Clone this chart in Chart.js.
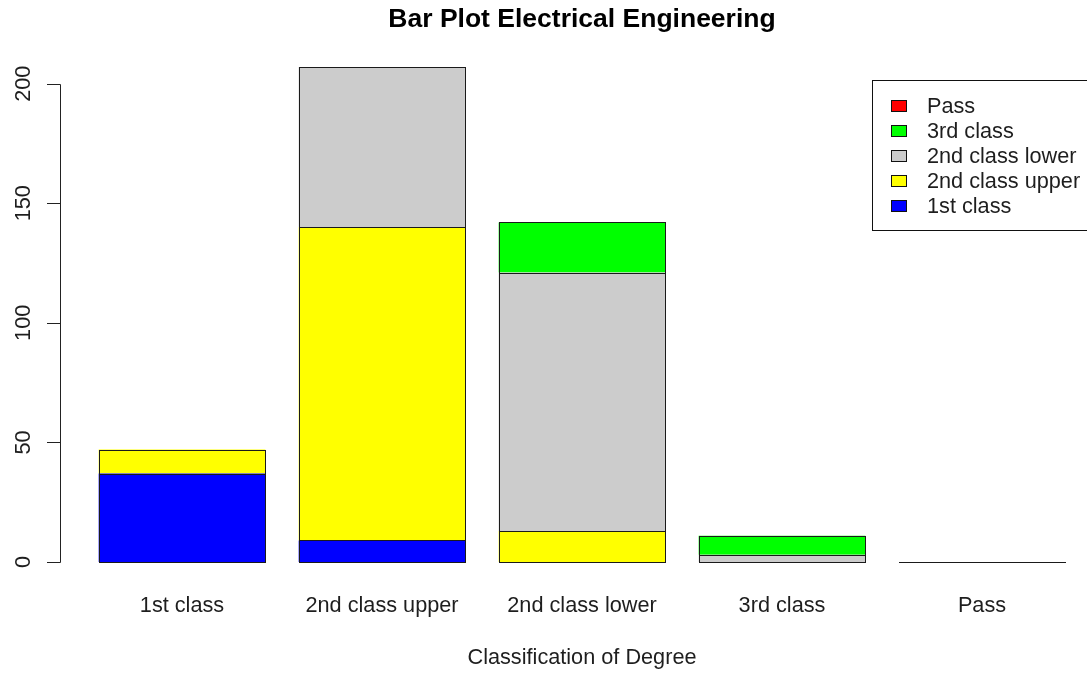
<!DOCTYPE html>
<html>
<head>
<meta charset="utf-8">
<script src="https://cdn.jsdelivr.net/npm/chart.js@4"></script>
<style>
  html, body { margin: 0; padding: 0; background: #fff; }
  #wrap { width: 1087px; height: 673px; }
</style>
</head>
<body>
<div id="wrap"><canvas id="bars"></canvas></div>
<script>
var categories = ['1st class', '2nd class upper', '2nd class lower', '3rd class', 'Pass'];
var yTicks = [0, 50, 100, 150, 200];

// counts per degree class, stacked by series
var firstClass  = [37, 9, 0, 0, 0];
var secondUpper = [10, 131, 13, 0, 0];
var secondLower = [0, 67, 108, 3, 0];
var thirdClass  = [0, 0, 21, 8, 0];
var passClass   = [0, 0, 0, 0, 0];

var FONT = 'Arial, "Liberation Sans", sans-serif';
var TXT = '#1e1e1e';
var FS = 21.7;

// draws the R style bits: outlined bars, rotated y axis, boxed legend
var rStyle = {
  id: 'rStyle',
  afterDatasetsDraw: function(chart) {
    var ctx = chart.ctx;
    ctx.save();
    ctx.strokeStyle = '#1a1a1a';
    ctx.lineWidth = 1;
    chart.data.datasets.forEach(function(ds, i) {
      var meta = chart.getDatasetMeta(i);
      meta.data.forEach(function(bar) {
        var p = bar.getProps(['x', 'y', 'base', 'width'], true);
        var x0 = Math.round(p.x - p.width / 2) + 0.5;
        var x1 = Math.round(p.x + p.width / 2) + 0.5;
        var y0 = Math.round(p.y) + 0.5;
        var y1 = Math.round(p.base) + 0.5;
        ctx.strokeRect(x0, y0, x1 - x0, y1 - y0);
      });
    });
    ctx.restore();
  },
  afterDraw: function(chart) {
    var ctx = chart.ctx;
    var ys = chart.scales.y;
    ctx.save();
    // y axis
    var ax = 60.5;
    ctx.strokeStyle = '#222';
    ctx.lineWidth = 1;
    ctx.beginPath();
    ctx.moveTo(ax, Math.round(ys.getPixelForValue(yTicks[0])) + 0.5);
    ctx.lineTo(ax, Math.round(ys.getPixelForValue(yTicks[yTicks.length - 1])) + 0.5);
    yTicks.forEach(function(t) {
      var py = Math.round(ys.getPixelForValue(t)) + 0.5;
      ctx.moveTo(47, py);
      ctx.lineTo(ax, py);
    });
    ctx.stroke();
    ctx.fillStyle = TXT;
    ctx.font = FS + 'px ' + FONT;
    ctx.textAlign = 'center';
    ctx.textBaseline = 'middle';
    yTicks.forEach(function(t) {
      var py = ys.getPixelForValue(t);
      ctx.save();
      ctx.translate(24, py);
      ctx.rotate(-Math.PI / 2);
      ctx.fillText(String(t), 0, 0);
      ctx.restore();
    });
    // legend, reversed like R
    ctx.strokeStyle = '#111';
    ctx.strokeRect(872.5, 80.5, 230, 150);
    var items = chart.data.datasets.slice().reverse();
    ctx.textAlign = 'left';
    items.forEach(function(ds, k) {
      var cy = 106 + k * 25;
      ctx.fillStyle = ds.backgroundColor;
      ctx.fillRect(891, cy - 6, 16, 12);
      ctx.strokeStyle = '#111';
      ctx.strokeRect(891.5, cy - 5.5, 15, 11);
      ctx.fillStyle = TXT;
      ctx.fillText(ds.label, 927, cy + 1);
    });
    ctx.restore();
  }
};

var ctx = document.getElementById('bars').getContext('2d');
var chart = new Chart(ctx, {
  type: 'bar',
  data: {
    labels: categories,
    datasets: [
      { label: '1st class', data: firstClass, backgroundColor: '#0000ff' },
      { label: '2nd class upper', data: secondUpper, backgroundColor: '#ffff00' },
      { label: '2nd class lower', data: secondLower, backgroundColor: '#cccccc' },
      { label: '3rd class', data: thirdClass, backgroundColor: '#00ff00' },
      { label: 'Pass', data: passClass, backgroundColor: '#ff0000' }
    ]
  },
  options: {
    responsive: true,
    maintainAspectRatio: false,
    animation: false,
    layout: { padding: { left: 82, right: 5, top: 0, bottom: 2 } },
    datasets: {
      bar: { barPercentage: 0.8333, categoryPercentage: 1, borderWidth: 0 }
    },
    plugins: {
      legend: { display: false },
      tooltip: { enabled: false },
      title: {
        display: true,
        text: 'Bar Plot Electrical Engineering',
        color: '#000',
        font: { family: FONT, size: 26.5, weight: 'bold' },
        padding: { top: 4, bottom: 12 }
      }
    },
    scales: {
      x: {
        stacked: true,
        grid: { display: false, drawTicks: false },
        border: { display: false },
        ticks: { color: TXT, font: { family: FONT, size: FS }, padding: 31, maxRotation: 0 },
        title: {
          display: true,
          text: 'Classification of Degree',
          color: TXT,
          font: { family: FONT, size: FS },
          padding: { top: 20, bottom: 0 }
        },
        afterFit: function(scale) { scale.height = 109; }
      },
      y: {
        stacked: true,
        display: false,
        min: 0,
        max: 215
      }
    }
  },
  plugins: [rStyle]
});
</script>
</body>
</html>
